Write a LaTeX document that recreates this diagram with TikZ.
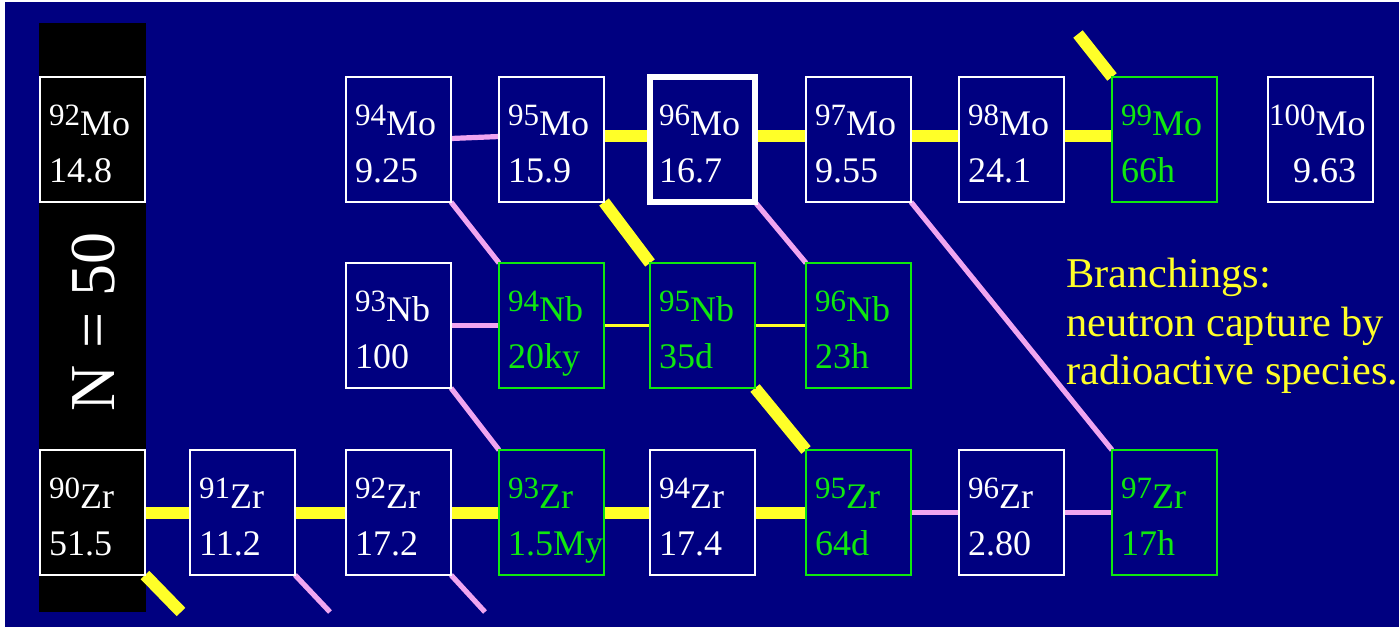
\documentclass[tikz,border=0pt]{standalone}
\usepackage{fontspec}
\setmainfont{Liberation Serif}
\definecolor{bgnavy}{RGB}{0,0,128}
\definecolor{isogreen}{RGB}{15,232,15}
\definecolor{capyellow}{RGB}{255,255,40}
\definecolor{decaypink}{RGB}{240,165,240}
\newcommand\supsz{\fontsize{31}{31}\selectfont}
\pgfdeclarelayer{back}
\pgfdeclarelayer{links}
\pgfsetlayers{back,links,main}
% #1 name, #2 left x, #3 top y, #4 mass number, #5 element, #6 value, #7 colour, #8 fill
\newcommand\isobox[8]{%
  \node[isocell, draw=#7, fill=#8] (#1) at (#2+52.5,#3+62.5) {};
  \node[isotext, text=#7] (#1-sym) at ([shift={(9,58)}]#1.north west) {\raisebox{10pt}{\supsz #4}#5};
  \node[isotext, text=#7] (#1-val) at ([shift={(9,105)}]#1.north west) {#6};
}
\begin{document}
\begin{tikzpicture}[x=1pt,y=-1pt,
  isocell/.style={rectangle, minimum width=105pt, minimum height=125pt,
    inner sep=0pt, outer sep=0pt, line width=2.6pt},
  isotext/.style={anchor=base west, inner sep=0pt, font=\fontsize{36}{40}\selectfont},
  ycap/.style={draw=capyellow, line width=12pt},
  ythin/.style={draw=capyellow, line width=2.2pt},
  pdecay/.style={draw=decaypink, line width=5.2pt}]
\useasboundingbox (0,0) rectangle (1399,627);
\begin{pgfonlayer}{back}
\fill[white] (0,0) rectangle (1399,627);
\fill[bgnavy] (5,2) rectangle (1399,627);
% closed neutron shell
\fill[black] (39,23) rectangle (146,612);
\end{pgfonlayer}
\node[rotate=90, text=white, inner sep=0pt, font=\fontsize{64}{64}\selectfont] (shell) at (94,322) {N = 50};

% Mo row
\isobox{mo92}{40}{77}{92}{Mo}{14.8}{white}{black}
\isobox{mo94}{346}{77}{94}{Mo}{9.25}{white}{bgnavy}
\isobox{mo95}{499}{77}{95}{Mo}{15.9}{white}{bgnavy}
\isobox{mo96}{650}{77}{96}{Mo}{16.7}{white}{bgnavy}
\isobox{mo97}{806}{77}{97}{Mo}{9.55}{white}{bgnavy}
\isobox{mo98}{959}{77}{98}{Mo}{24.1}{white}{bgnavy}
\isobox{mo99}{1112}{77}{99}{Mo}{66h}{isogreen}{bgnavy}
\node[isocell, draw=white, fill=bgnavy] (mo100) at (1320.5,139.5) {};
\node[isotext, text=white] (mo100-sym) at ([shift={(1,58)}]mo100.north west) {\raisebox{10pt}{\supsz 100}Mo};
\node[isotext, text=white] (mo100-val) at ([shift={(25,105)}]mo100.north west) {9.63};
\draw[white, line width=6.5pt] (mo96.north west) rectangle (mo96.south east);

% Nb row
\isobox{nb93}{346}{263}{93}{Nb}{100}{white}{bgnavy}
\isobox{nb94}{499}{263}{94}{Nb}{20ky}{isogreen}{bgnavy}
\isobox{nb95}{650}{263}{95}{Nb}{35d}{isogreen}{bgnavy}
\isobox{nb96}{806}{263}{96}{Nb}{23h}{isogreen}{bgnavy}

% Zr row
\isobox{zr90}{40}{450}{90}{Zr}{51.5}{white}{black}
\isobox{zr91}{190}{450}{91}{Zr}{11.2}{white}{bgnavy}
\isobox{zr92}{346}{450}{92}{Zr}{17.2}{white}{bgnavy}
\isobox{zr93}{499}{450}{93}{Zr}{1.5My}{isogreen}{bgnavy}
\isobox{zr94}{650}{450}{94}{Zr}{17.4}{white}{bgnavy}
\isobox{zr95}{806}{450}{95}{Zr}{64d}{isogreen}{bgnavy}
\isobox{zr96}{959}{450}{96}{Zr}{2.80}{white}{bgnavy}
\isobox{zr97}{1112}{450}{97}{Zr}{17h}{isogreen}{bgnavy}

\node[anchor=north west, inner sep=0pt, align=left, text=capyellow,
  font=\fontsize{42.4}{48.5}\selectfont] (note) at (1066,258)
  {Branchings:\\neutron capture by\\radioactive species.};

% free ends of the branch lines
\coordinate (in99) at (1078,34);
\coordinate (out90) at (181,612);
\coordinate (out91) at (330,612);
\coordinate (out92) at (485,612);

\begin{pgfonlayer}{links}
% s-process path
\draw[ycap] (zr90.east) -- (zr91.west);
\draw[ycap] (zr91.east) -- (zr92.west);
\draw[ycap] (zr92.east) -- (zr93.west);
\draw[ycap] (zr93.east) -- (zr94.west);
\draw[ycap] (zr94.east) -- (zr95.west);
\draw[pdecay] (zr95.east) -- (zr96.west);
\draw[pdecay] (zr96.east) -- (zr97.west);
\draw[pdecay] ([yshift=1pt]mo94.east) -- ([yshift=3pt]mo95.west);
\draw[ycap] ([yshift=4pt]mo95.east) -- ([yshift=4pt]mo96.west);
\draw[ycap] ([yshift=4pt]mo96.east) -- ([yshift=4pt]mo97.west);
\draw[ycap] ([yshift=4pt]mo97.east) -- ([yshift=4pt]mo98.west);
\draw[ycap] ([yshift=4pt]mo98.east) -- ([yshift=4pt]mo99.west);
\draw[pdecay] (nb93.east) -- (nb94.west);
\draw[ythin] (nb94.east) -- (nb95.west);
\draw[ythin] (nb95.east) -- (nb96.west);
% diagonal links
\draw[pdecay] (mo94.south east) -- (nb94.north west);
\draw[ycap] (mo95.south east) -- (nb95.north west);
\draw[pdecay] (mo96.south east) -- (nb96.north west);
\draw[pdecay] (mo97.south east) -- (zr97.north west);
\draw[ycap] (in99) -- (mo99.north west);
\draw[pdecay] (nb93.south east) -- (zr93.north west);
\draw[ycap] (nb95.south east) -- (zr95.north west);
\draw[ycap] (zr90.south east) -- (out90);
\draw[pdecay] (zr91.south east) -- (out91);
\draw[pdecay] (zr92.south east) -- (out92);
\end{pgfonlayer}
\end{tikzpicture}
\end{document}
